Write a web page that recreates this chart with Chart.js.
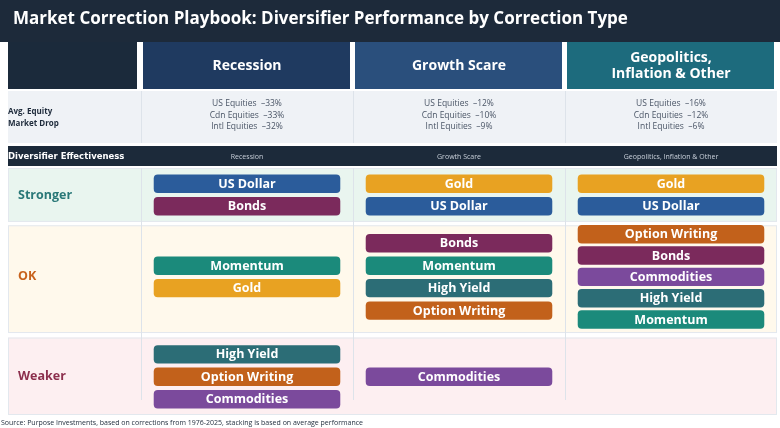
<!DOCTYPE html>
<html><head><meta charset="utf-8">
<script src="https://cdn.jsdelivr.net/npm/chart.js@4.4.1/dist/chart.umd.min.js"></script>
<style>html,body{margin:0;padding:0;background:#fff;overflow:hidden}</style>
</head><body>
<canvas id="c" width="780" height="428"></canvas>
<script>
const FONT = '"Liberation Sans Narrow", "Open Sans", sans-serif';
const categories = ['Recession', 'Growth Scare', 'Geopolitics, Inflation & Other'];
const headerLines = [['Recession'], ['Growth Scare'], ['Geopolitics,', 'Inflation & Other']];
const equityDrops = [
  ['US Equities  \u201333%', 'Cdn Equities  \u201333%', 'Intl Equities  \u201332%'],
  ['US Equities  \u201312%', 'Cdn Equities  \u201310%', 'Intl Equities  \u20139%'],
  ['US Equities  \u201316%', 'Cdn Equities  \u201312%', 'Intl Equities  \u20136%']
];
const tiers = ['Stronger', 'OK', 'Weaker'];
// tier centre and extent, in slot units (1 slot = one pill row)
const tierCenter = [1.2, 4.85, 9.3];
const tierBand = [[0, 2.4], [2.55, 7.35], [7.55, 11]];
const stronger = [['US Dollar', 'Bonds'], ['Gold', 'US Dollar'], ['Gold', 'US Dollar']];
const ok = [['Momentum', 'Gold'], ['Bonds', 'Momentum', 'High Yield', 'Option Writing'],
  ['Option Writing', 'Bonds', 'Commodities', 'High Yield', 'Momentum']];
const weaker = [['High Yield', 'Option Writing', 'Commodities'], ['Commodities'], []];
const assetColors = {
  'US Dollar': '#2b5c9b', 'Bonds': '#7b2a5c', 'Gold': '#e8a222', 'Momentum': '#1b8a7b',
  'High Yield': '#2c6d76', 'Option Writing': '#c2611b', 'Commodities': '#7b4a9c'
};
const tierBg = ['#e9f5ef', '#fff9ec', '#fdeff1'];
const tierText = ['#2a7878', '#c8621c', '#8c2f4d'];

const datasets = [];
[stronger, ok, weaker].forEach((tier, t) => {
  tier.forEach((list, col) => {
    const step = list.length > 4 ? 0.95 : 1;
    list.forEach((name, i) => {
      const mid = tierCenter[t] + (i - (list.length - 1) / 2) * step;
      const data = categories.map((_, k) => k === col ? [mid - 0.41, mid + 0.41] : null);
      datasets.push({ label: name, data, backgroundColor: assetColors[name], grouped: false,
        borderRadius: 4, borderSkipped: false, barPercentage: 0.88, categoryPercentage: 1 });
    });
  });
});

const decor = {
  id: 'decor',
  beforeDraw(chart) {
    const ctx = chart.ctx, y = chart.scales.y, a = chart.chartArea;
    const colW = (a.right - a.left) / 3;
    ctx.save();
    ctx.fillStyle = '#1d2a3a'; ctx.fillRect(0, 0, 780, 42);
    ctx.fillStyle = '#fff'; ctx.font = 'bold 17px ' + FONT; ctx.textBaseline = 'middle';
    ctx.fillText('Market Correction Playbook: Diversifier Performance by Correction Type', 13, 19);
    // header cells
    ctx.fillStyle = '#1b2a3b'; ctx.fillRect(8, 42, 129, 47);
    const hc = ['#1f3a60', '#2a4f7c', '#1d6b7d'];
    ctx.textAlign = 'center';
    for (let k = 0; k < 3; k++) {
      const x0 = a.left + colW * k;
      ctx.fillStyle = hc[k]; ctx.fillRect(x0 + 2, 42, colW - 5, 47);
      ctx.fillStyle = '#fff'; ctx.font = 'bold 14px ' + FONT;
      const L = headerLines[k];
      L.forEach((s, i) => ctx.fillText(s, x0 + colW / 2, 66 + (i - (L.length - 1) / 2) * 16));
    }
    // equity drop row
    ctx.fillStyle = '#eff2f6'; ctx.fillRect(8, 91, 769, 52);
    ctx.fillStyle = '#1d2a3a'; ctx.font = 'bold 8px ' + FONT; ctx.textAlign = 'left';
    ctx.fillText('Avg. Equity', 8, 112); ctx.fillText('Market Drop', 8, 124);
    ctx.fillStyle = '#4a5566'; ctx.font = '8.5px ' + FONT; ctx.textAlign = 'center';
    equityDrops.forEach((L, k) => L.forEach((s, i) =>
      ctx.fillText(s, a.left + colW * (k + 0.5), 104 + i * 11.5)));
    // effectiveness bar
    ctx.fillStyle = '#1c2a3a'; ctx.fillRect(8, 146, 769, 20);
    ctx.fillStyle = '#fff'; ctx.font = 'bold 8.5px "DejaVu Sans", sans-serif'; ctx.textAlign = 'left';
    ctx.fillText('Diversifier Effectiveness', 8, 157);
    ctx.fillStyle = '#c9d0da'; ctx.font = '7px ' + FONT; ctx.textAlign = 'center';
    categories.forEach((c, k) => ctx.fillText(c, a.left + colW * (k + 0.5), 157));
    // tier bands
    tiers.forEach((name, t) => {
      const top = y.getPixelForValue(tierBand[t][0]), bot = y.getPixelForValue(tierBand[t][1]);
      ctx.fillStyle = tierBg[t]; ctx.fillRect(8, top, 769, bot - top);
      ctx.strokeStyle = '#e3e8ee'; ctx.lineWidth = 1; ctx.strokeRect(8.5, top + 0.5, 768, bot - top - 1);
      ctx.fillStyle = tierText[t]; ctx.font = 'bold 12.5px ' + FONT; ctx.textAlign = 'left';
      ctx.fillText(name, 18, y.getPixelForValue(tierCenter[t]));
    });
    ctx.strokeStyle = '#dde3ea';
    for (let k = 0; k <= 2; k++) {
      const x = Math.round(a.left + colW * k) + 0.5;
      ctx.beginPath(); ctx.moveTo(x, 91); ctx.lineTo(x, 143); ctx.moveTo(x, 168); ctx.lineTo(x, 400); ctx.stroke();
    }
    ctx.fillStyle = '#1d2a3a'; ctx.font = '7px ' + FONT; ctx.textAlign = 'left';
    ctx.fillText('Source: Purpose Investments, based on corrections from 1976-2025, stacking is based on average performance', 1, 423);
    ctx.restore();
  },
  afterDatasetsDraw(chart) {
    const ctx = chart.ctx;
    ctx.save();
    ctx.fillStyle = '#fff'; ctx.font = 'bold 12.5px ' + FONT;
    ctx.textAlign = 'center'; ctx.textBaseline = 'middle';
    chart.data.datasets.forEach((ds, i) => {
      chart.getDatasetMeta(i).data.forEach((bar, k) => {
        if (!ds.data[k]) return;
        const p = bar.getProps(['x', 'y', 'base'], true);
        ctx.fillText(ds.label, p.x, (p.y + p.base) / 2 + 0.5);
      });
    });
    ctx.restore();
  }
};

new Chart(document.getElementById('c'), {
  type: 'bar',
  data: { labels: categories, datasets },
  options: {
    responsive: false, animation: false,
    layout: { padding: { left: 141, right: 3, top: 168, bottom: 13 } },
    scales: {
      x: { display: false, offset: true },
      y: { display: false, min: 0, max: 11, reverse: true }
    },
    plugins: { legend: { display: false }, tooltip: { enabled: false } }
  },
  plugins: [decor]
});
</script>
</body></html>
